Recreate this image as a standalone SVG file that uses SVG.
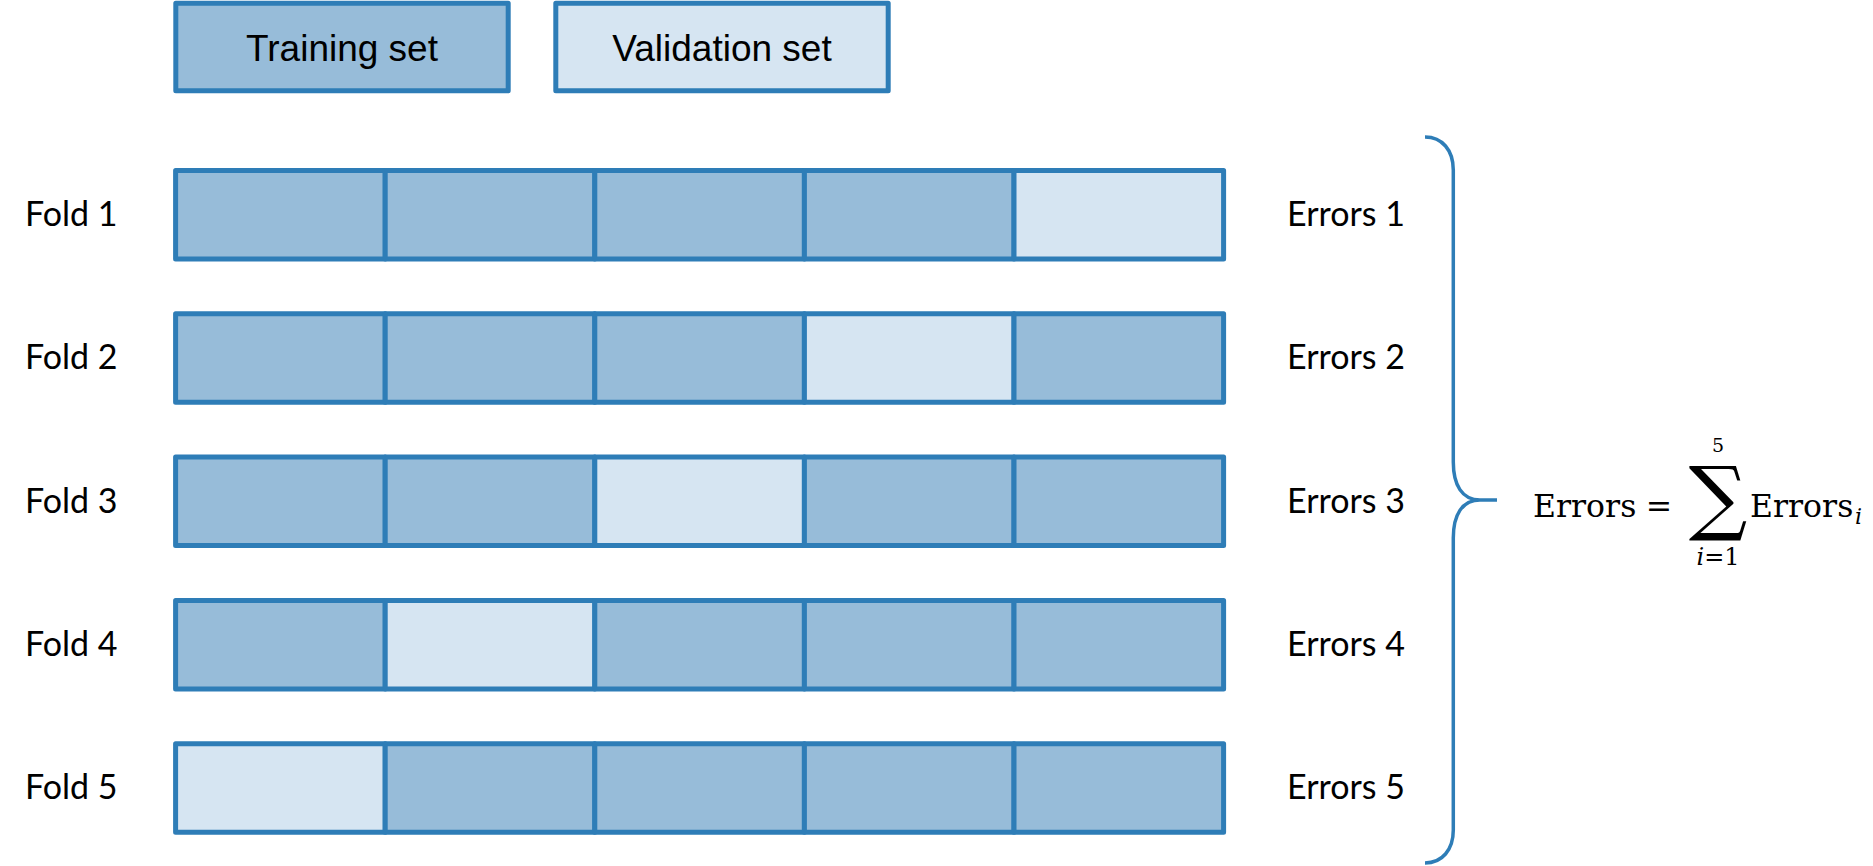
<svg xmlns="http://www.w3.org/2000/svg" width="1873" height="866" viewBox="0 0 1873 866">
<style>
.tr{fill:#97BCD9;stroke:#2E7DB7;stroke-width:5;stroke-linejoin:round}
.va{fill:#D6E5F2;stroke:#2E7DB7;stroke-width:5;stroke-linejoin:round}
.leg{font-family:"Liberation Sans",Arial,sans-serif;font-size:37px;fill:#000;text-anchor:middle}
.lab{font-family:Lato,"Noto Sans",sans-serif;font-size:34px;fill:#000}
.math{font-family:"DejaVu Serif",serif;fill:#000}
.brace{fill:none;stroke:#2E7DB7;stroke-width:3.5;stroke-linecap:butt}
</style>
<rect width="1873" height="866" fill="#fff"/>
<g id="legend-training">
<rect class="tr" x="175.8" y="3.2" width="332.4" height="87.6"/>
<text class="leg" x="342" y="60.7">Training set</text>
</g>
<g id="legend-validation">
<rect class="va" x="555.8" y="3.2" width="332.4" height="87.6"/>
<text class="leg" x="722" y="60.7">Validation set</text>
</g>
<g id="fold1">
<text class="lab" x="25" y="226">Fold 1</text>
<rect class="tr" x="175.6" y="170.5" width="209.6" height="88.5"/>
<rect class="tr" x="385.2" y="170.5" width="209.6" height="88.5"/>
<rect class="tr" x="594.8" y="170.5" width="209.6" height="88.5"/>
<rect class="tr" x="804.4" y="170.5" width="209.6" height="88.5"/>
<rect class="va" x="1014" y="170.5" width="209.6" height="88.5"/>
<text class="lab" x="1287" y="226">Errors 1</text>
</g>
<g id="fold2">
<text class="lab" x="25" y="369.3">Fold 2</text>
<rect class="tr" x="175.6" y="313.8" width="209.6" height="88.5"/>
<rect class="tr" x="385.2" y="313.8" width="209.6" height="88.5"/>
<rect class="tr" x="594.8" y="313.8" width="209.6" height="88.5"/>
<rect class="va" x="804.4" y="313.8" width="209.6" height="88.5"/>
<rect class="tr" x="1014" y="313.8" width="209.6" height="88.5"/>
<text class="lab" x="1287" y="369.3">Errors 2</text>
</g>
<g id="fold3">
<text class="lab" x="25" y="512.6">Fold 3</text>
<rect class="tr" x="175.6" y="457.1" width="209.6" height="88.5"/>
<rect class="tr" x="385.2" y="457.1" width="209.6" height="88.5"/>
<rect class="va" x="594.8" y="457.1" width="209.6" height="88.5"/>
<rect class="tr" x="804.4" y="457.1" width="209.6" height="88.5"/>
<rect class="tr" x="1014" y="457.1" width="209.6" height="88.5"/>
<text class="lab" x="1287" y="512.6">Errors 3</text>
</g>
<g id="fold4">
<text class="lab" x="25" y="655.9">Fold 4</text>
<rect class="tr" x="175.6" y="600.4" width="209.6" height="88.5"/>
<rect class="va" x="385.2" y="600.4" width="209.6" height="88.5"/>
<rect class="tr" x="594.8" y="600.4" width="209.6" height="88.5"/>
<rect class="tr" x="804.4" y="600.4" width="209.6" height="88.5"/>
<rect class="tr" x="1014" y="600.4" width="209.6" height="88.5"/>
<text class="lab" x="1287" y="655.9">Errors 4</text>
</g>
<g id="fold5">
<text class="lab" x="25" y="799.2">Fold 5</text>
<rect class="va" x="175.6" y="743.7" width="209.6" height="88.5"/>
<rect class="tr" x="385.2" y="743.7" width="209.6" height="88.5"/>
<rect class="tr" x="594.8" y="743.7" width="209.6" height="88.5"/>
<rect class="tr" x="804.4" y="743.7" width="209.6" height="88.5"/>
<rect class="tr" x="1014" y="743.7" width="209.6" height="88.5"/>
<text class="lab" x="1287" y="799.2">Errors 5</text>
</g>
<g id="connectors">
<path class="brace" d="M1425,137 C1442,137 1453.3,150 1453.3,170 L1453.3,462 C1453.3,485 1462,500 1480,500 L1497,500 M1480,500 C1462,500 1453.3,515 1453.3,538 L1453.3,830 C1453.3,850 1442,863 1425,863"/>
</g>
<g id="formula">
<text class="math" x="1533" y="517" font-size="31.5">Errors</text>
<text class="math" x="1659" y="517" font-size="31.5" text-anchor="middle">=</text>
<text class="math" x="1718" y="525" font-size="82" text-anchor="middle">∑</text>
<text class="math" x="1718" y="452" font-size="19" text-anchor="middle">5</text>
<text class="math" x="1718" y="565" font-size="24" text-anchor="middle"><tspan font-style="italic">i</tspan>=1</text>
<text class="math" x="1750" y="517" font-size="31.5">Errors</text>
<text class="math" x="1855" y="524" font-size="22" font-style="italic">i</text>
</g>
</svg>
